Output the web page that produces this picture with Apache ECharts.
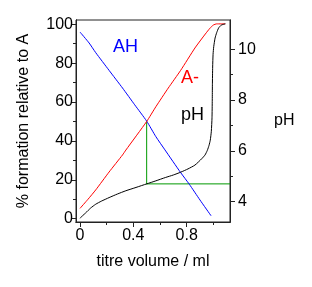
<!DOCTYPE html>
<html>
<head>
<meta charset="utf-8">
<script src="https://cdn.jsdelivr.net/npm/echarts@6/dist/echarts.min.js"></script>
<style>
html,body{margin:0;padding:0;background:#fff;}
#c{width:312px;height:287px;}
</style>
</head>
<body>
<div id="c"></div>
<script>
// titre volume (ml) vs % formation / pH
const ahData = [[0,96.0],[0.068,90.4],[0.118,85.4],[0.218,76.3],[0.319,67.2],[0.41,58.6],[0.5,50.2],[0.569,42.2],[0.637,35.4],[0.755,23.7],[0.82,17.7],[0.9,9.6],[0.983,1.5]];
const aMinusData = [[0,5.3],[0.06,10.0],[0.118,14.8],[0.218,24.0],[0.319,32.8],[0.344,35.3],[0.5,50.0],[0.569,57.6],[0.662,67.2],[0.755,76.3],[0.862,87.8],[0.94,95.0],[0.975,98.0],[1.0,99.6],[1.025,100.2],[1.09,100.2]];
const pHData = [[0,3.35],[0.02,3.45],[0.043,3.56],[0.08,3.75],[0.118,3.9],[0.16,4.02],[0.218,4.16],[0.28,4.3],[0.344,4.43],[0.42,4.56],[0.5,4.7],[0.569,4.82],[0.64,4.95],[0.7,5.05],[0.755,5.16],[0.81,5.29],[0.862,5.44],[0.913,5.69],[0.938,5.84],[0.955,6.02],[0.968,6.22],[0.977,6.42],[0.985,6.77],[0.99,7.3],[0.992,8.0],[0.993,8.6],[0.995,9.3],[0.998,9.8],[1.003,10.1],[1.013,10.44],[1.025,10.65],[1.04,10.84],[1.06,10.95],[1.09,11.0]];
const halfEqVertical = [[0.5,50],[0.5,17.7]];
const halfEqHorizontal = [[0.5,4.7],[1.125,4.7]];
const xMajorTicks = [0,0.4,0.8];
const xMinorTicks = [0.2,0.6,1.0];
const pctMajorTicks = [0,20,40,60,80,100];
const pctMinorTicks = [10,30,50,70,90];
const pHMajorTicks = [4,6,8,10];
const pHMinorTicks = [5,7,9];

const FONT = 'Liberation Sans, Arial, Helvetica, sans-serif';
const chart = echarts.init(document.getElementById('c'), null, {renderer:'canvas'});
const lineCol = '#222';
function xAx(ticks, len, labels, extra){
  return Object.assign({
    type:'value', min:-0.03, max:1.125, position:'bottom', gridIndex:0,
    axisLine:{show:true, onZero:false, lineStyle:{color:lineCol,width:1}},
    axisTick:{show:true, customValues:ticks, length:len, lineStyle:{color:lineCol}},
    axisLabel:{show:labels, customValues:ticks, margin:6, color:'#000', fontSize:16, fontFamily:FONT, formatter:v=>String(v)},
    splitLine:{show:false}
  }, extra||{});
}
function yAx(min,max,pos,ticks,len,labels,margin,extra){
  return Object.assign({
    type:'value', min:min, max:max, position:pos, gridIndex:0,
    axisLine:{show:true, onZero:false, lineStyle:{color:lineCol,width:1}},
    axisTick:{show:true, customValues:ticks, length:len, lineStyle:{color:lineCol}},
    axisLabel:{show:labels, customValues:ticks, margin:margin, color:'#000', fontSize:16, fontFamily:FONT},
    splitLine:{show:false}
  }, extra||{});
}
const option = {
  animation:false,
  backgroundColor:'#fff',
  grid:{left:76, top:20, width:154, height:202, show:true, borderColor:lineCol, borderWidth:1, containLabel:false},
  textStyle:{fontFamily:FONT},
  xAxis:[
    xAx(xMajorTicks,5,true,{name:'titre volume / ml', nameLocation:'middle', nameGap:32, nameTextStyle:{fontSize:16, color:'#000', fontFamily:FONT}}),
    xAx(xMinorTicks,3,false)
  ],
  yAxis:[
    yAx(-1.7,102.2,'left',pctMajorTicks,5,true,3,{name:'% formation relative to A', nameLocation:'middle', nameGap:44, nameTextStyle:{fontSize:16, color:'#000', fontFamily:FONT}}),
    yAx(-1.7,102.2,'left',pctMinorTicks,3,false,3),
    yAx(3.2,11.15,'right',pHMajorTicks,5,true,8,{name:'pH', nameLocation:'middle', nameRotate:0, nameGap:44, nameTextStyle:{fontSize:16, color:'#000', fontFamily:FONT, align:'left'}}),
    yAx(3.2,11.15,'right',pHMinorTicks,3,false,8)
  ],
  series:[
    {name:'AH', type:'line', xAxisIndex:0, yAxisIndex:0, data:ahData, showSymbol:false, smooth:0.2, lineStyle:{color:'#0000ff', width:1}, z:3},
    {name:'A-', type:'line', xAxisIndex:0, yAxisIndex:0, data:aMinusData, showSymbol:false, smooth:0.2, lineStyle:{color:'#ff0000', width:1}, z:3},
    {name:'pH', type:'line', xAxisIndex:0, yAxisIndex:2, data:pHData, showSymbol:false, smooth:0.2, lineStyle:{color:'#000', width:1}, z:3},
    {name:'v', type:'line', xAxisIndex:0, yAxisIndex:0, data:halfEqVertical, showSymbol:false, lineStyle:{color:'#009900', width:1}, z:2},
    {name:'h', type:'line', xAxisIndex:0, yAxisIndex:2, data:halfEqHorizontal, showSymbol:false, lineStyle:{color:'#009900', width:1}, z:2}
  ],
  graphic:[
    {type:'text', left:113, top:38, style:{text:'AH', fill:'#0000ff', font:'18px '+FONT}},
    {type:'text', left:181, top:69, style:{text:'A-', fill:'#ff0000', font:'18px '+FONT}},
    {type:'text', left:181, top:106, style:{text:'pH', fill:'#000', font:'18px '+FONT}}
  ]
};
chart.setOption(option);
</script>
</body>
</html>
